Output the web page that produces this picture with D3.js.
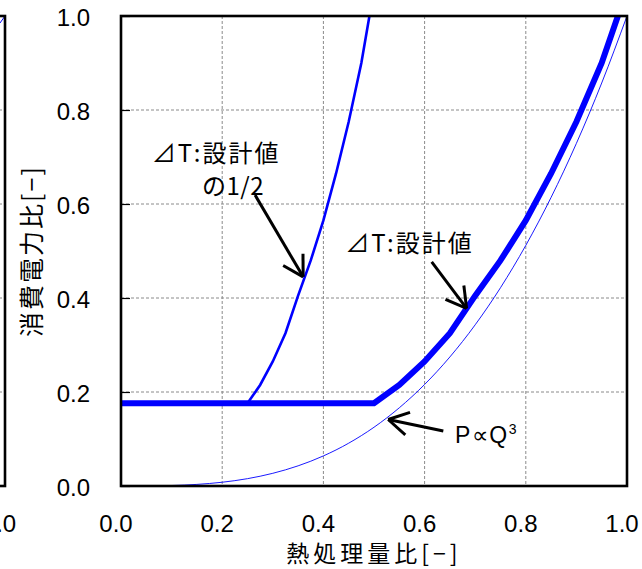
<!DOCTYPE html>
<html>
<head>
<meta charset="utf-8">
<script src="https://cdn.jsdelivr.net/npm/d3@7"></script>
<style>
  html, body { margin: 0; padding: 0; background: #fff; }
  svg { display: block; }
</style>
</head>
<body>
<svg id="chart" width="642" height="569"></svg>
<script>
// ---------- data ----------
const xTickValues = [0, 0.2, 0.4, 0.6, 0.8, 1.0];
const yTickValues = [0, 0.2, 0.4, 0.6, 0.8, 1.0];
const xTickLabels = ["0.0", "0.2", "0.4", "0.6", "0.8", "1.0"];
const yTickLabels = ["0.0", "0.2", "0.4", "0.6", "0.8", "1.0"];

const xTitle = "熱処理量比[−]";
const yTitle = "消費電力比[−]";

// P ∝ Q^3 (thin line)
const qCube = [0, 0.05, 0.1, 0.15, 0.2, 0.25, 0.3, 0.35, 0.4, 0.45, 0.5, 0.55, 0.6, 0.65, 0.7, 0.75, 0.8, 0.85, 0.9, 0.95, 1.0];
const pCube = [0, 0.0001, 0.001, 0.0034, 0.008, 0.0156, 0.027, 0.0429, 0.064, 0.0911, 0.125, 0.1664, 0.216, 0.2746, 0.343, 0.4219, 0.512, 0.6141, 0.729, 0.8574, 1.0];

// ΔT : design value (thick line)
const qDesign = [0, 0.5, 0.55, 0.6, 0.65, 0.7, 0.75, 0.8, 0.85, 0.9, 0.95, 0.982];
const pDesign = [0.176, 0.176, 0.215, 0.265, 0.325, 0.405, 0.48, 0.565, 0.665, 0.775, 0.9, 1.0];

// ΔT : half of design value (medium line)
const qHalf = [0, 0.25, 0.275, 0.3, 0.325, 0.35, 0.375, 0.4, 0.425, 0.45, 0.475, 0.491];
const pHalf = [0.176, 0.176, 0.215, 0.265, 0.325, 0.405, 0.48, 0.565, 0.665, 0.775, 0.9, 1.0];

// annotations (data units)
const annLabels = ["⊿T:設計値", "の1/2", "⊿T:設計値"];
const annX = [0.061, 0.160, 0.443];
const annY = [0.712, 0.642, 0.520];

const arrowFromX = [0.265, 0.614, 0.637];
const arrowFromY = [0.619, 0.477, 0.117];
const arrowToX   = [0.360, 0.683, 0.528];
const arrowToY   = [0.445, 0.378, 0.1415];

const cubeLabelX = 0.660, cubeLabelY = 0.0915;

// remnant of neighbouring chart on the left
const leftCurveQ = [0.99, 1.0];
const leftCurveP = [0.985, 1.0];

// ---------- layout ----------
const svg = d3.select("#chart");
const plot = { left: 121, right: 627, top: 16, bottom: 486 };
const x = d3.scaleLinear().domain([0, 1]).range([plot.left, plot.right]);
const y = d3.scaleLinear().domain([0, 1]).range([plot.bottom, plot.top]);
const plotW = plot.right - plot.left;
const xLeftChart = d3.scaleLinear().domain([0, 1]).range([5 - plotW, 5]);

const numFont = "'Liberation Sans', Arial, sans-serif";
const cjkFont = "'Noto Sans CJK JP', 'Noto Sans', sans-serif";
const blue = "#0000ff";
const gridColor = "#8a8a8a";

// ---------- left remnant chart ----------
const lg = svg.append("g");
lg.selectAll("line.lgrid").data(yTickValues.slice(1, -1)).join("line")
  .attr("x1", xLeftChart(0)).attr("x2", xLeftChart(1))
  .attr("y1", d => y(d)).attr("y2", d => y(d))
  .attr("stroke", gridColor).attr("stroke-width", 1).attr("stroke-dasharray", "3,2");
lg.append("path")
  .datum(leftCurveQ.map((q, i) => [q, leftCurveP[i]]))
  .attr("d", d3.line().x(d => xLeftChart(d[0])).y(d => y(d[1])))
  .attr("fill", "none").attr("stroke", blue).attr("stroke-width", 1);
lg.append("rect")
  .attr("x", xLeftChart(0)).attr("y", y(1))
  .attr("width", xLeftChart(1) - xLeftChart(0)).attr("height", y(0) - y(1))
  .attr("fill", "none").attr("stroke", "#000").attr("stroke-width", 2.6);
lg.append("text")
  .attr("x", xLeftChart(1) - 5.5).attr("y", 532)
  .attr("text-anchor", "middle")
  .attr("font-family", numFont).attr("font-size", 24)
  .text(xTickLabels[xTickLabels.length - 1]);

// ---------- gridlines ----------
const g = svg.append("g");
g.selectAll("line.vgrid").data(xTickValues.slice(1, -1)).join("line")
  .attr("x1", d => x(d)).attr("x2", d => x(d))
  .attr("y1", plot.top).attr("y2", plot.bottom)
  .attr("stroke", gridColor).attr("stroke-width", 1).attr("stroke-dasharray", "3,2");
g.selectAll("line.hgrid").data(yTickValues.slice(1, -1)).join("line")
  .attr("x1", plot.left).attr("x2", plot.right)
  .attr("y1", d => y(d)).attr("y2", d => y(d))
  .attr("stroke", gridColor).attr("stroke-width", 1).attr("stroke-dasharray", "3,2");

// ---------- axes (ticks inside) ----------
const yAxis = d3.axisLeft(y).tickValues(yTickValues).tickSize(-9).tickPadding(31)
  .tickFormat((d, i) => yTickLabels[i]);
const yg = svg.append("g").attr("transform", `translate(${plot.left},0)`).call(yAxis);
yg.select(".domain").remove();
yg.selectAll(".tick line").attr("stroke", "#000").attr("stroke-width", 1.2);
yg.selectAll(".tick text").attr("font-family", numFont).attr("font-size", 24).attr("fill", "#000")
  .attr("dy", "0.38em");

const xAxis = d3.axisBottom(x).tickValues(xTickValues).tickSize(0).tickPadding(0)
  .tickFormat((d, i) => xTickLabels[i]);
const xg = svg.append("g").attr("transform", `translate(0,${plot.bottom})`).call(xAxis);
xg.select(".domain").remove();
xg.selectAll(".tick text").attr("font-family", numFont).attr("font-size", 24).attr("fill", "#000")
  .attr("y", 46).attr("dy", 0).attr("dx", -5.5);

// ---------- series ----------
const line = d3.line().x(d => x(d[0])).y(d => y(d[1]));
svg.append("path")
  .datum(qCube.map((q, i) => [q, pCube[i]]))
  .attr("d", line.curve(d3.curveMonotoneX))
  .attr("fill", "none").attr("stroke", blue).attr("stroke-width", 0.9);
const lineLin = d3.line().x(d => x(d[0])).y(d => y(d[1]));
svg.append("path")
  .datum(qHalf.map((q, i) => [q, pHalf[i]]))
  .attr("d", lineLin)
  .attr("fill", "none").attr("stroke", blue).attr("stroke-width", 2.6);
svg.append("path")
  .datum(qDesign.map((q, i) => [q, pDesign[i]]))
  .attr("d", lineLin)
  .attr("fill", "none").attr("stroke", blue).attr("stroke-width", 6);

// ---------- plot border ----------
svg.append("rect")
  .attr("x", plot.left).attr("y", plot.top)
  .attr("width", plotW).attr("height", plot.bottom - plot.top)
  .attr("fill", "none").attr("stroke", "#000").attr("stroke-width", 2.6);

// ---------- annotations ----------
svg.selectAll("text.ann").data(annLabels).join("text")
  .attr("class", "ann")
  .attr("x", (d, i) => x(annX[i])).attr("y", (d, i) => y(annY[i]))
  .attr("dominant-baseline", "central")
  .attr("font-family", cjkFont).attr("font-size", 24).attr("fill", "#000")
  .attr("letter-spacing", (d, i) => i === 1 ? 0.5 : 2)
  .text(d => d);

const cubeText = svg.append("text")
  .attr("x", x(cubeLabelX)).attr("y", y(cubeLabelY))
  .attr("font-family", numFont).attr("font-size", 23).attr("letter-spacing", 1.5).attr("fill", "#000");
cubeText.append("tspan").text("P∝Q");
cubeText.append("tspan").attr("font-size", 14).attr("dy", -9).text("3");

const headLen = 23, headAng = Math.PI / 6;
arrowFromX.forEach((fx, i) => {
  const x0 = x(fx), y0 = y(arrowFromY[i]);
  const x1 = x(arrowToX[i]), y1 = y(arrowToY[i]);
  const back = Math.atan2(y0 - y1, x0 - x1);
  const ag = svg.append("g").attr("stroke", "#000").attr("stroke-width", 3).attr("fill", "none");
  ag.append("line").attr("x1", x0).attr("y1", y0).attr("x2", x1).attr("y2", y1);
  [back + headAng, back - headAng].forEach(a => {
    ag.append("line").attr("x1", x1).attr("y1", y1)
      .attr("x2", x1 + headLen * Math.cos(a)).attr("y2", y1 + headLen * Math.sin(a));
  });
});

// ---------- axis titles ----------
svg.append("text")
  .attr("x", (plot.left + plot.right) / 2).attr("y", 552)
  .attr("text-anchor", "middle").attr("dominant-baseline", "central")
  .attr("font-family", cjkFont).attr("font-size", 23).attr("letter-spacing", 4).attr("fill", "#000")
  .text(xTitle);
svg.append("text")
  .attr("transform", `translate(30,${(plot.top + plot.bottom) / 2}) rotate(-90)`)
  .attr("text-anchor", "middle").attr("dominant-baseline", "central")
  .attr("font-family", cjkFont).attr("font-size", 25).attr("letter-spacing", 2).attr("fill", "#000")
  .text(yTitle);
</script>
</body>
</html>
